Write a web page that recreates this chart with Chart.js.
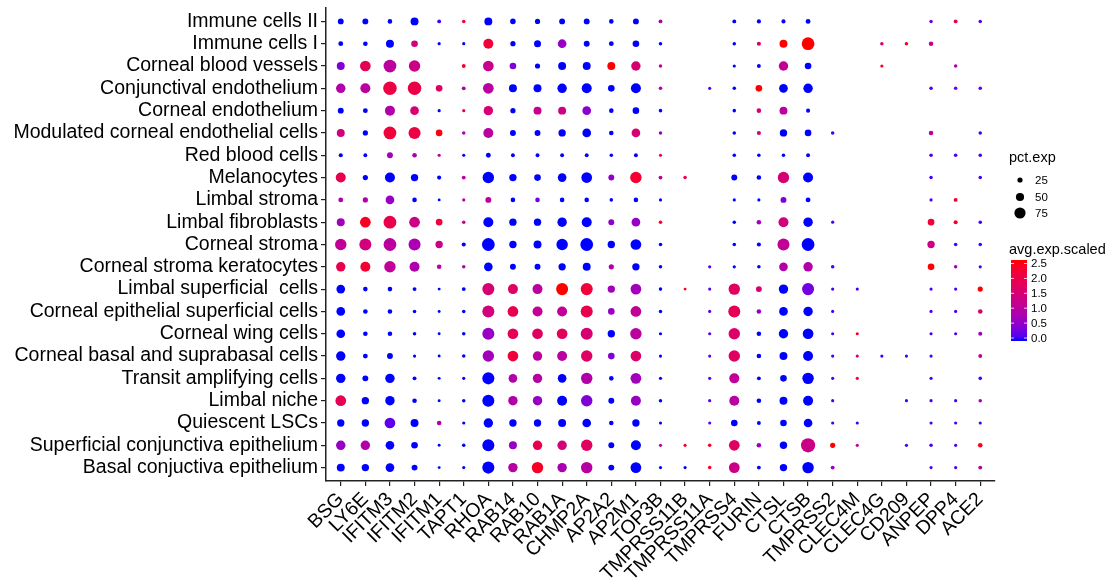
<!DOCTYPE html>
<html lang="en">
<head>
  <meta charset="UTF-8" />
  <title>Dot plot</title>
  <script src="https://cdn.jsdelivr.net/npm/chart.js"></script>
  <style>
    body {
      margin: 0;
      background: #ffffff;
    }
    .wrap {
      width: 1113px;
      height: 579px;
    }
  </style>
</head>
<body>
  <div class="wrap">
    <canvas id="dotChart" width="1113" height="579"></canvas>
  </div>

  <script>
const cellTypes = [
  'Immune cells II', 'Immune cells I', 'Corneal blood vessels', 'Conjunctival endothelium',
  'Corneal endothelium', 'Modulated corneal endothelial cells', 'Red blood cells', 'Melanocytes',
  'Limbal stroma', 'Limbal fibroblasts', 'Corneal stroma', 'Corneal stroma keratocytes',
  'Limbal superficial  cells', 'Corneal epithelial superficial cells', 'Corneal wing cells',
  'Corneal basal and suprabasal cells', 'Transit amplifying cells', 'Limbal niche',
  'Quiescent LSCs', 'Superficial conjunctiva epithelium', 'Basal conjuctiva epithelium'
];

const genes = [
  'BSG', 'LY6E', 'IFITM3', 'IFITM2', 'IFITM1', 'TAPT1', 'RHOA', 'RAB14', 'RAB10', 'RAB1A',
  'CHMP2A', 'AP2A2', 'AP2M1', 'TOP3B', 'TMPRSS11B', 'TMPRSS11A', 'TMPRSS4', 'FURIN', 'CTSL',
  'CTSB', 'TMPRSS2', 'CLEC4M', 'CLEC4G', 'CD209', 'ANPEP', 'DPP4', 'ACE2'
];

// percent of cells expressing (one row per cell type, null = no dot)
const pctExp = [
  [31,31,20,48,14,11,48,28, 25,31,31,20,31,14,null,null,14,16, 16,22,null,null,null,null,11,14,11],
  [22,20,48,37,8,8,65,25, 40,54,31,22,37,11,null,null,11,16, 48,88,null,null,11,11,20,null,null],
  [48,71,88,77,null,14,71,37, 25,48,48,48,60,11,null,null,8,14, 60,37,null,null,8,null,null,11,null],
  [60,65,94,94,37,14,71,48, 48,60,65,37,65,11,null,8,11,37, 54,60,null,null,null,null,11,11,11],
  [31,22,65,54,8,8,60,25, 48,48,54,20,37,11,null,null,11,20, 48,16,null,null,null,null,null,null,null],
  [48,25,88,82,37,11,65,31, 31,43,54,20,54,11,null,null,11,16, 43,37,11,null,null,null,20,null,11],
  [16,14,31,20,8,8,22,14, 14,14,14,11,14,8,null,null,11,11, 11,14,null,null,null,null,11,11,11],
  [65,25,65,43,16,14,77,43, 37,54,71,31,77,14,11,null,31,20, 77,65,null,null,null,null,11,null,11],
  [22,25,54,20,6,8,31,20, 20,20,20,11,20,8,null,null,8,8, 31,22,null,null,null,null,8,14,null],
  [48,71,88,71,37,11,65,43, 43,60,65,31,54,11,null,null,11,20, 65,60,8,null,null,null,37,16,11],
  [77,82,88,82,43,16,88,43, 48,77,88,43,71,11,null,null,11,16, 82,88,null,null,null,null,43,11,11],
  [60,65,77,65,20,11,54,31, 31,43,48,25,43,11,null,8,8,11, 54,60,11,null,null,null,37,11,8],
  [54,20,20,14,6,14,82,65, 65,82,82,43,71,11,6,8,77,31, 60,82,8,8,null,null,8,8,25],
  [54,20,20,11,6,11,82,71, 65,65,82,37,71,11,null,8,82,20, 54,60,8,null,null,null,8,8,20],
  [54,20,20,11,6,11,82,71, 71,71,82,43,77,8,null,8,77,20, 60,71,8,8,null,null,8,8,16],
  [60,22,31,8,6,11,77,71, 60,65,77,37,71,8,null,8,77,20, 48,65,8,8,8,8,8,null,14],
  [60,31,60,14,6,8,82,54, 60,54,77,20,71,8,null,8,65,14, 37,77,8,8,null,null,8,null,11],
  [71,43,60,20,6,11,82,60, 60,65,77,31,65,11,null,8,65,20, 48,65,8,null,null,8,8,8,11],
  [43,43,71,48,20,8,60,43, 43,48,54,20,43,8,null,8,37,14, 37,54,8,8,null,null,8,8,8],
  [60,60,54,37,6,11,82,48, 60,60,77,31,65,8,8,11,71,20, 43,100,25,8,null,8,11,8,20],
  [48,43,54,31,6,8,82,60, 77,60,77,31,71,8,8,11,71,14, 43,77,14,null,null,null,8,8,14]
];

// average scaled expression, same layout
const avgExp = [
  [0,0,0,0,0.1,2.2,0,0, 0,0,0,0,0,0.9,null,null,0,0, 0,0,null,null,null,null,0.3,1.8,0.2],
  [0,0,0,1.4,0,0,2.1,0, 0,0.6,0,0,0,0,null,null,0,1.5, 2.5,2.5,null,null,1.5,2.3,1.2,null,null],
  [0.4,1.8,1.0,1.3,null,2.2,1.2,0.4, 0,0,0,2.5,1.5,1.2,null,null,0,0, 1.1,0,null,null,2.3,null,null,0.9,null],
  [0.9,1.0,2.0,1.95,1.7,0.9,1.0,0, 0,0,0,0,0,0.9,null,0.2,0,2.5, 0,0,null,null,null,null,0.1,0.3,0.2],
  [0,0,0.9,1.5,0,2.2,1.5,0, 1.2,1.3,0.5,0,0,0,null,null,0,1.5, 1.0,0,null,null,null,null,null,null,null],
  [1.4,0,2.1,2.0,2.4,0.8,1.0,0, 0,0,0,0,1.5,0.6,null,null,0,1.5, 0,0,0.1,null,null,null,1.0,null,0.1],
  [0,0,0.7,0.8,0.9,0,0,0, 0,0,0,0,0,2.0,null,null,0,0, 0,0,null,null,null,null,0.1,0.1,0.1],
  [1.9,0,0,0,0,1.0,0,0, 0,0,0,0.5,2.2,1.0,2.0,null,0,0, 1.5,0,null,null,null,null,0.1,null,0.1],
  [0.9,0.9,0.6,0,0,0.9,1.0,0, 0.3,0,0,0,0,0,null,null,0,0, 0.4,0,null,null,null,null,0.1,2.3,null],
  [0.7,2.3,1.9,1.3,2.1,1.2,0,0, 0,0,0,0.5,0.6,2.2,null,null,0,0.7, 1.4,0,0.1,null,null,null,2.1,2.3,0.1],
  [1.1,1.4,1.0,0.8,1.3,0,0,0, 0,0,0,0,0,0,null,null,0,0, 1.1,0,null,null,null,null,1.3,0.1,0.1],
  [1.9,2.2,1.1,0.85,1.0,0.9,0,0, 0,0,0,0.9,0,0,null,0.2,0,0, 0.9,0.9,0.1,null,null,null,2.5,0.7,0.1],
  [0,0,0,0,0,0,1.5,1.7, 1.0,2.5,2.1,0.7,0.7,0,2.3,0.2,1.7,1.5, 0,0.3,0.1,0.1,null,null,0.1,0.1,2.5],
  [0,0,0,0,0,0,1.4,1.9, 1.1,1.1,1.9,0.6,1.1,0,null,0.2,1.8,0.6, 0,0,0.1,null,null,null,0.1,0.1,1.6],
  [0,0,0,0,0,0,0.6,1.8, 1.7,1.75,1.5,0,1.0,0,null,0.2,1.6,0, 0,0,0.1,2.2,null,null,0.1,0.1,0.7],
  [0,0,0,0,0,0,0.7,2.1, 1.0,1.0,1.65,0.4,1.6,0,null,0.2,1.7,0, 0,0,0.1,1.4,0.1,0.1,0.1,null,1.0],
  [0,0,0,0,0,0,0,0.9, 0.95,0,0.9,0,0.7,0,null,0.2,1.1,0, 0,0,0.1,2.2,null,null,0.1,null,0.1],
  [1.8,0,0,0,0,0,0,0.9, 0.6,0,0.4,0,0.6,0,null,0.2,1.0,0, 0,0,0.1,null,null,0.1,0.1,0.1,0.8],
  [0,0,0.2,0,0.9,0,0,0, 0,0,0,0,0,0,null,0.2,0,0, 0,0,0.1,0.1,null,null,0.1,0.1,0.1],
  [0.6,0.9,0,0,0,0,0,0.6, 1.85,1.4,1.7,0,0,1.0,2.3,2.3,1.7,0.6, 0,1.3,2.5,1.2,null,0.1,0.1,0.1,2.4],
  [0,0,0,0,0,0,0,0.95, 2.3,0.8,0.95,0,0,0,0,2.3,1.3,0, 0,0,0.6,null,null,null,0.1,0.1,0.9]
];

const sizeBreaks = [25, 50, 75];
const colourBreaks = [0.0, 0.5, 1.0, 1.5, 2.0, 2.5];
const colourMax = 2.5;

// blue -> red in CIELAB, like ggplot's gradient
function toLin(c) { c /= 255; return c <= 0.04045 ? c / 12.92 : Math.pow((c + 0.055) / 1.055, 2.4); }
function fromLin(c) {
  c = c <= 0.0031308 ? 12.92 * c : 1.055 * Math.pow(c, 1 / 2.4) - 0.055;
  return Math.round(Math.max(0, Math.min(1, c)) * 255);
}
function rgb2lab(rgb) {
  const [r, g, b] = rgb.map(toLin);
  const x = (0.4124 * r + 0.3576 * g + 0.1805 * b) / 0.95047;
  const y = 0.2126 * r + 0.7152 * g + 0.0722 * b;
  const z = (0.0193 * r + 0.1192 * g + 0.9505 * b) / 1.08883;
  const f = t => t > 0.008856 ? Math.cbrt(t) : 7.787 * t + 16 / 116;
  return [116 * f(y) - 16, 500 * (f(x) - f(y)), 200 * (f(y) - f(z))];
}
function lab2rgb(lab) {
  const fy = (lab[0] + 16) / 116, fx = fy + lab[1] / 500, fz = fy - lab[2] / 200;
  const inv = t => t * t * t > 0.008856 ? t * t * t : (t - 16 / 116) / 7.787;
  const x = inv(fx) * 0.95047, y = inv(fy), z = inv(fz) * 1.08883;
  const r = 3.2406 * x - 1.5372 * y - 0.4986 * z;
  const g = -0.9689 * x + 1.8758 * y + 0.0415 * z;
  const b = 0.0557 * x - 0.2040 * y + 1.0570 * z;
  return [fromLin(r), fromLin(g), fromLin(b)];
}
const labLow = rgb2lab([0, 0, 255]);
const labHigh = rgb2lab([255, 0, 0]);
function expColour(v) {
  const t = Math.max(0, Math.min(1, v / colourMax));
  const c = lab2rgb(labLow.map((l, k) => l + (labHigh[k] - l) * t));
  return `rgb(${c[0]},${c[1]},${c[2]})`;
}
function dotRadius(p) { return 1.1 + 0.06 * p; }

const points = [];
cellTypes.forEach((cell, i) => {
  genes.forEach((gene, j) => {
    const p = pctExp[i][j];
    if (p === null) return;
    points.push({ x: j, y: i, r: dotRadius(p), v: avgExp[i][j] });
  });
});

const axisFont = { family: "'Liberation Sans', Arial, sans-serif", size: 19.5 };

// draws the two ggplot-style legends on the right
const legendPlugin = {
  id: 'sideLegend',
  afterDraw(chart) {
    const c = chart.ctx;
    c.save();
    c.fillStyle = '#000';
    c.textBaseline = 'middle';
    c.textAlign = 'left';
    c.font = "14.5px 'Liberation Sans', Arial, sans-serif";
    c.fillText('pct.exp', 1009, 158);
    const sizeY = [180, 197, 213];
    c.font = "11.5px 'Liberation Sans', Arial, sans-serif";
    sizeBreaks.forEach((b, k) => {
      c.beginPath();
      c.arc(1020, sizeY[k], dotRadius(b), 0, Math.PI * 2);
      c.fillStyle = '#000';
      c.fill();
      c.fillText(String(b), 1035, sizeY[k] + 0.5);
    });

    c.font = "14.5px 'Liberation Sans', Arial, sans-serif";
    c.fillText('avg.exp.scaled', 1009, 250);
    const top = 260, bottom = 341, x0 = 1011, w = 16;
    const grad = c.createLinearGradient(0, bottom, 0, top);
    for (let k = 0; k <= 20; k++) grad.addColorStop(k / 20, expColour(colourMax * k / 20));
    c.fillStyle = grad;
    c.fillRect(x0, top, w, bottom - top);
    const yOf = v => 338 - (338 - 263.5) * v / colourMax;
    c.font = "11.5px 'Liberation Sans', Arial, sans-serif";
    colourBreaks.forEach(b => {
      const y = yOf(b);
      c.strokeStyle = 'rgba(255,255,255,0.8)';
      c.lineWidth = 1;
      c.beginPath();
      c.moveTo(x0, y); c.lineTo(x0 + 3, y);
      c.moveTo(x0 + w - 3, y); c.lineTo(x0 + w, y);
      c.stroke();
      c.fillStyle = '#000';
      c.fillText(b.toFixed(1), 1031, y + 0.5);
    });
    c.restore();
  }
};

const ctx = document.getElementById('dotChart').getContext('2d');
const dotChart = new Chart(ctx, {
  type: 'bubble',
  data: {
    datasets: [{
      data: points,
      backgroundColor: c => expColour(c.raw.v),
      borderWidth: 0,
      hoverBorderWidth: 0
    }]
  },
  options: {
    responsive: false,
    animation: false,
    devicePixelRatio: 1,
    layout: { padding: { top: 8, right: 118, left: 0, bottom: 0 } },
    plugins: {
      legend: { display: false },
      tooltip: { enabled: false }
    },
    scales: {
      x: {
        type: 'linear',
        min: -0.6,
        max: genes.length - 0.4,
        afterBuildTicks: s => { s.ticks = genes.map((g, j) => ({ value: j })); },
        afterFit: s => { s.height = 98; s.paddingLeft = 0; s.paddingRight = 0; },
        grid: { drawOnChartArea: false, drawTicks: true, tickLength: 5, color: '#222', lineWidth: 1.2 },
        border: { display: true, color: '#222', width: 1.5 },
        ticks: {
          autoSkip: false,
          maxRotation: 45,
          minRotation: 45,
          padding: 2,
          color: '#000',
          font: axisFont,
          callback: v => genes[v]
        }
      },
      y: {
        type: 'linear',
        reverse: true,
        min: -0.6,
        max: cellTypes.length - 0.4,
        afterBuildTicks: s => { s.ticks = cellTypes.map((t, i) => ({ value: i })); },
        afterFit: s => { s.width = 326; s.paddingTop = 0; s.paddingBottom = 0; },
        grid: { drawOnChartArea: false, drawTicks: true, tickLength: 5, color: '#222', lineWidth: 1.2 },
        border: { display: true, color: '#222', width: 1.5 },
        ticks: {
          autoSkip: false,
          padding: 3,
          color: '#000',
          font: axisFont,
          callback: v => cellTypes[v]
        }
      }
    }
  },
  plugins: [legendPlugin]
});
  </script>
</body>
</html>
